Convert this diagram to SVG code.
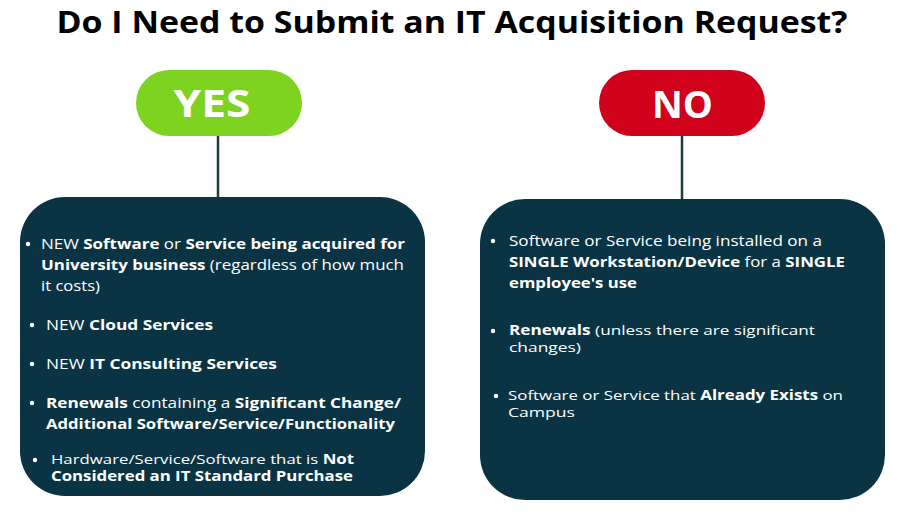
<svg xmlns="http://www.w3.org/2000/svg" width="900" height="522" viewBox="0 0 900 522">
<style>
.title{font-family:"Open Sans","Liberation Sans",sans-serif;font-weight:700;font-size:31px;fill:#000}
.pill{font-family:"Open Sans","Liberation Sans",sans-serif;font-weight:700;font-size:38px;fill:#fff}
.t{font-family:"Open Sans","Liberation Sans",sans-serif;font-size:15px;fill:#fff}
.s{font-size:13.5px}
.b{font-weight:700}
.box{fill:#0a3443}
.dot{fill:#fff}
.conn{stroke:#1d3a47;stroke-width:2.5}
</style>
<rect width="900" height="522" fill="#fff"/>
<text class="title" x="452" y="33" text-anchor="middle" textLength="791" lengthAdjust="spacingAndGlyphs">Do I Need to Submit an IT Acquisition Request?</text>
<g id="connectors">
<line class="conn" x1="218" y1="135" x2="218" y2="198"/>
<line class="conn" x1="682" y1="135" x2="682" y2="200"/>
</g>
<g id="yes">
<rect x="136" y="70" width="166" height="66" rx="33" fill="#7ed321"/>
<text class="pill" x="212" y="117" text-anchor="middle" textLength="77" lengthAdjust="spacingAndGlyphs">YES</text>
</g>
<g id="no">
<rect x="599" y="70" width="166" height="66" rx="33" fill="#d0021b"/>
<text class="pill" x="682.500" y="118" text-anchor="middle" textLength="61" lengthAdjust="spacingAndGlyphs">NO</text>
</g>
<g id="yes-list">
<rect class="box" x="20" y="197" width="405" height="299" rx="45"/>
<circle class="dot" cx="28" cy="244" r="2.2"/>
<text class="t" x="41" y="249" textLength="364" lengthAdjust="spacingAndGlyphs">NEW <tspan class="b">Software</tspan> or <tspan class="b">Service being acquired for</tspan></text>
<text class="t" x="41" y="270" textLength="363" lengthAdjust="spacingAndGlyphs"><tspan class="b">University business</tspan> (regardless of how much</text>
<text class="t" x="41" y="291" textLength="59" lengthAdjust="spacingAndGlyphs">it costs)</text>
<circle class="dot" cx="32" cy="325" r="2.2"/>
<text class="t" x="46" y="330" textLength="167" lengthAdjust="spacingAndGlyphs">NEW <tspan class="b">Cloud Services</tspan></text>
<circle class="dot" cx="32" cy="364" r="2.2"/>
<text class="t" x="46" y="369" textLength="231" lengthAdjust="spacingAndGlyphs">NEW <tspan class="b">IT Consulting Services</tspan></text>
<circle class="dot" cx="32" cy="403" r="2.2"/>
<text class="t" x="46" y="408" textLength="355" lengthAdjust="spacingAndGlyphs"><tspan class="b">Renewals</tspan> containing a <tspan class="b">Significant Change/</tspan></text>
<text class="t" x="46" y="429" textLength="349" lengthAdjust="spacingAndGlyphs"><tspan class="b">Additional Software/Service/Functionality</tspan></text>
<circle class="dot" cx="35" cy="460" r="2.2"/>
<text class="t s" x="51" y="464" textLength="303" lengthAdjust="spacingAndGlyphs">Hardware/Service/Software that is <tspan class="b">Not</tspan></text>
<text class="t s" x="51" y="481" textLength="302" lengthAdjust="spacingAndGlyphs"><tspan class="b">Considered an IT Standard Purchase</tspan></text>
</g>
<g id="no-list">
<rect class="box" x="480" y="199" width="405" height="301" rx="45"/>
<circle class="dot" cx="493" cy="241" r="2.2"/>
<text class="t" x="509" y="246" textLength="313" lengthAdjust="spacingAndGlyphs">Software or Service being installed on a</text>
<text class="t" x="509" y="267" textLength="336" lengthAdjust="spacingAndGlyphs"><tspan class="b">SINGLE Workstation/Device</tspan> for a <tspan class="b">SINGLE</tspan></text>
<text class="t" x="509" y="288" textLength="128" lengthAdjust="spacingAndGlyphs"><tspan class="b">employee's use</tspan></text>
<circle class="dot" cx="493" cy="331" r="2.2"/>
<text class="t s" x="509" y="335" textLength="306" lengthAdjust="spacingAndGlyphs"><tspan class="b">Renewals</tspan> (unless there are significant</text>
<text class="t s" x="509" y="352" textLength="72" lengthAdjust="spacingAndGlyphs">changes)</text>
<circle class="dot" cx="496" cy="396" r="2.2"/>
<text class="t s" x="508" y="400" textLength="335" lengthAdjust="spacingAndGlyphs">Software or Service that <tspan class="b">Already Exists</tspan> on</text>
<text class="t s" x="508" y="417" textLength="67" lengthAdjust="spacingAndGlyphs">Campus</text>
</g>
</svg>
